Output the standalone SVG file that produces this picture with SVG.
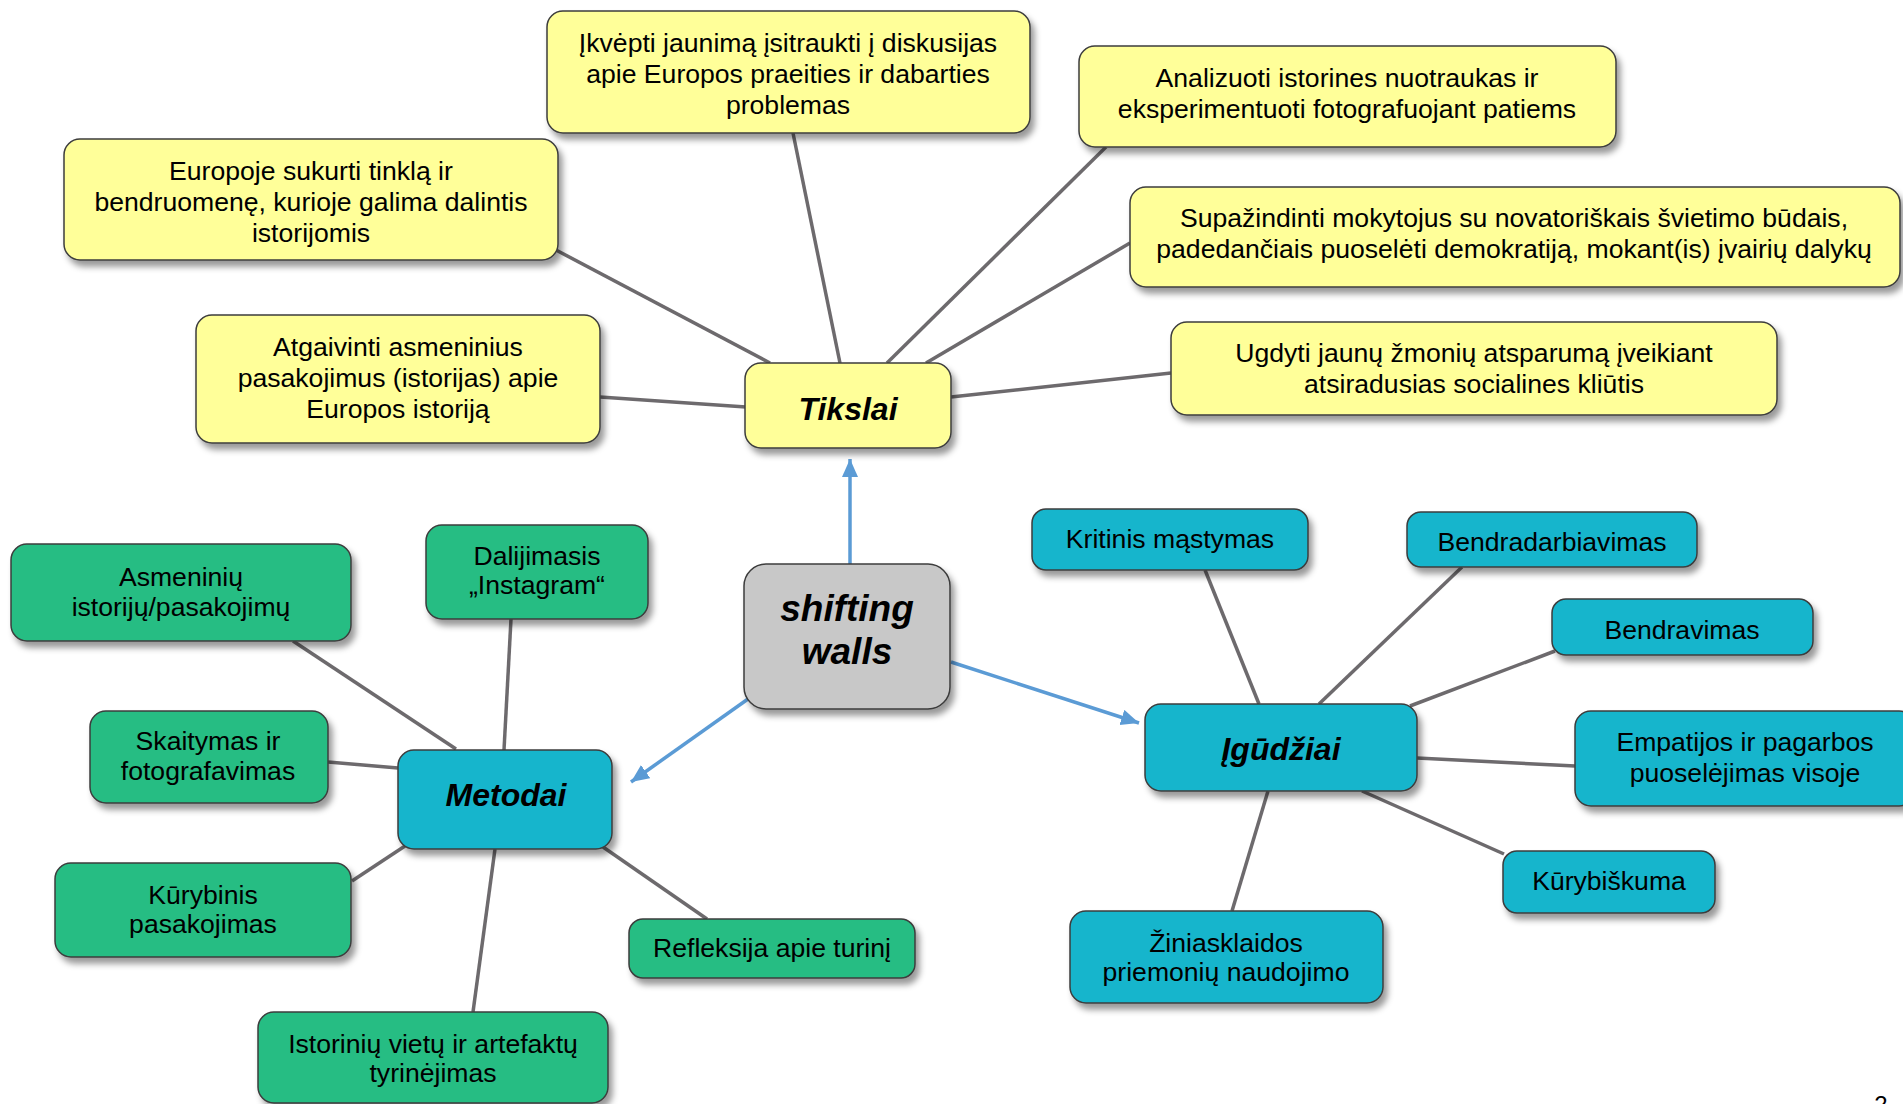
<svg xmlns="http://www.w3.org/2000/svg" width="1903" height="1104" viewBox="0 0 1903 1104">
<style>
.box{stroke:#3c3c3c;stroke-width:1.5;filter:url(#sh)}
.y{fill:#FFFF99}
.g{fill:#26BD83}
.t{fill:#17B5CC}
.c{fill:#C8C8C8}
.tx{font-family:"Liberation Sans",Arial,sans-serif;font-size:26.6px;fill:#000;text-anchor:middle}
.hd{font-family:"Liberation Sans",Arial,sans-serif;font-size:32px;font-weight:bold;font-style:italic;fill:#000;text-anchor:middle}
.ln{stroke:#6D6A6D;stroke-width:3.5;fill:none}
.ar{stroke:#5B9BD5;stroke-width:3.5;fill:none;marker-end:url(#ah)}
</style>
<defs>
<filter id="sh" x="-10%" y="-10%" width="130%" height="140%">
<feDropShadow dx="4" dy="6" stdDeviation="3" flood-color="#000" flood-opacity="0.4"/>
</filter>
<marker id="ah" markerUnits="userSpaceOnUse" markerWidth="20" markerHeight="18" refX="18" refY="8" orient="auto">
<path d="M0,0 L18,8 L0,16 Z" fill="#5B9BD5"/>
</marker>
</defs>
<rect width="1903" height="1104" fill="#fff"/>
<g id="connectors">
<line class="ln" x1="770" y1="363" x2="556" y2="250"/>
<line class="ln" x1="840" y1="363" x2="793" y2="133"/>
<line class="ln" x1="887" y1="363" x2="1106" y2="147"/>
<line class="ln" x1="926" y1="363" x2="1130" y2="243"/>
<line class="ln" x1="951" y1="397" x2="1171" y2="373"/>
<line class="ln" x1="600" y1="397" x2="746" y2="407"/>
<line class="ln" x1="456" y1="749" x2="293" y2="641"/>
<line class="ln" x1="504" y1="750" x2="511" y2="619"/>
<line class="ln" x1="398" y1="768" x2="328" y2="762"/>
<line class="ln" x1="405" y1="846" x2="352" y2="881"/>
<line class="ln" x1="495" y1="849" x2="473" y2="1012"/>
<line class="ln" x1="603" y1="847" x2="707" y2="919"/>
<line class="ln" x1="1259" y1="704" x2="1205" y2="570"/>
<line class="ln" x1="1319" y1="704" x2="1462" y2="567"/>
<line class="ln" x1="1410" y1="706" x2="1555" y2="651"/>
<line class="ln" x1="1417" y1="758" x2="1575" y2="766"/>
<line class="ln" x1="1362" y1="791" x2="1504" y2="854"/>
<line class="ln" x1="1268" y1="791" x2="1232" y2="911"/>
<line class="ar" x1="850" y1="564" x2="850" y2="459"/>
<line class="ar" x1="951" y1="662" x2="1139" y2="723"/>
<line class="ar" x1="748" y1="699" x2="631" y2="782"/>
</g>
<g id="n-ikvepti"><rect class="box y" x="547" y="11" width="483" height="122" rx="16"/>
<text class="tx" x="788" y="52">Įkvėpti jaunimą įsitraukti į diskusijas</text>
<text class="tx" x="788" y="83">apie Europos praeities ir dabarties</text>
<text class="tx" x="788" y="114">problemas</text></g>
<g id="n-europoje"><rect class="box y" x="64" y="139" width="494" height="121" rx="16"/>
<text class="tx" x="311" y="180">Europoje sukurti tinklą ir</text>
<text class="tx" x="311" y="211">bendruomenę, kurioje galima dalintis</text>
<text class="tx" x="311" y="242">istorijomis</text></g>
<g id="n-atgaivinti"><rect class="box y" x="196" y="315" width="404" height="128" rx="16"/>
<text class="tx" x="398" y="356">Atgaivinti asmeninius</text>
<text class="tx" x="398" y="387">pasakojimus (istorijas) apie</text>
<text class="tx" x="398" y="418">Europos istoriją</text></g>
<g id="n-analizuoti"><rect class="box y" x="1079" y="46" width="537" height="101" rx="16"/>
<text class="tx" x="1347" y="87">Analizuoti istorines nuotraukas ir</text>
<text class="tx" x="1347" y="118">eksperimentuoti fotografuojant patiems</text></g>
<g id="n-supazindinti"><rect class="box y" x="1130" y="187" width="770" height="100" rx="16"/>
<text class="tx" x="1514" y="227">Supažindinti mokytojus su novatoriškais švietimo būdais,</text>
<text class="tx" x="1514" y="258">padedančiais puoselėti demokratiją, mokant(is) įvairių dalykų</text></g>
<g id="n-ugdyti"><rect class="box y" x="1171" y="322" width="606" height="93" rx="16"/>
<text class="tx" x="1474" y="362">Ugdyti jaunų žmonių atsparumą įveikiant</text>
<text class="tx" x="1474" y="393">atsiradusias socialines kliūtis</text></g>
<g id="n-tikslai"><rect class="box y" x="745" y="363" width="206" height="85" rx="16"/>
<text class="hd" x="848" y="420">Tikslai</text></g>
<g id="n-shifting"><rect class="box c" x="744" y="564" width="206" height="145" rx="22"/>
<text class="hd" x="847" y="621" style="font-size:37px">shifting</text>
<text class="hd" x="847" y="664" style="font-size:37px">walls</text></g>
<g id="n-metodai"><rect class="box t" x="398" y="750" width="214" height="99" rx="16"/>
<text class="hd" x="506" y="806">Metodai</text></g>
<g id="n-asmeniniu"><rect class="box g" x="11" y="544" width="340" height="97" rx="16"/>
<text class="tx" x="181" y="586">Asmeninių</text>
<text class="tx" x="181" y="616">istorijų/pasakojimų</text></g>
<g id="n-dalijimasis"><rect class="box g" x="426" y="525" width="222" height="94" rx="16"/>
<text class="tx" x="537" y="565">Dalijimasis</text>
<text class="tx" x="537" y="594">„Instagram“</text></g>
<g id="n-skaitymas"><rect class="box g" x="90" y="711" width="238" height="92" rx="16"/>
<text class="tx" x="208" y="750">Skaitymas ir</text>
<text class="tx" x="208" y="780">fotografavimas</text></g>
<g id="n-kurybinis"><rect class="box g" x="55" y="863" width="296" height="94" rx="16"/>
<text class="tx" x="203" y="904">Kūrybinis</text>
<text class="tx" x="203" y="933">pasakojimas</text></g>
<g id="n-refleksija"><rect class="box g" x="629" y="919" width="286" height="59" rx="14"/>
<text class="tx" x="772" y="957">Refleksija apie turinį</text></g>
<g id="n-istoriniu"><rect class="box g" x="258" y="1012" width="350" height="91" rx="16"/>
<text class="tx" x="433" y="1053">Istorinių vietų ir artefaktų</text>
<text class="tx" x="433" y="1082">tyrinėjimas</text></g>
<g id="n-igudziai"><rect class="box t" x="1145" y="704" width="272" height="87" rx="16"/>
<text class="hd" x="1281" y="760">Įgūdžiai</text></g>
<g id="n-kritinis"><rect class="box t" x="1032" y="509" width="276" height="61" rx="14"/>
<text class="tx" x="1170" y="548">Kritinis mąstymas</text></g>
<g id="n-bendradarbiavimas"><rect class="box t" x="1407" y="512" width="290" height="55" rx="14"/>
<text class="tx" x="1552" y="551">Bendradarbiavimas</text></g>
<g id="n-bendravimas"><rect class="box t" x="1552" y="599" width="261" height="56" rx="14"/>
<text class="tx" x="1682" y="639">Bendravimas</text></g>
<g id="n-empatijos"><rect class="box t" x="1575" y="711" width="340" height="95" rx="16"/>
<text class="tx" x="1745" y="751">Empatijos ir pagarbos</text>
<text class="tx" x="1745" y="782">puoselėjimas visoje</text></g>
<g id="n-kurybiskuma"><rect class="box t" x="1503" y="851" width="212" height="62" rx="14"/>
<text class="tx" x="1609" y="890">Kūrybiškuma</text></g>
<g id="n-ziniasklaidos"><rect class="box t" x="1070" y="911" width="313" height="92" rx="16"/>
<text class="tx" x="1226" y="952">Žiniasklaidos</text>
<text class="tx" x="1226" y="981">priemonių naudojimo</text></g>
<text class="tx" x="1881" y="1113" style="font-size:24px">2</text>
</svg>
